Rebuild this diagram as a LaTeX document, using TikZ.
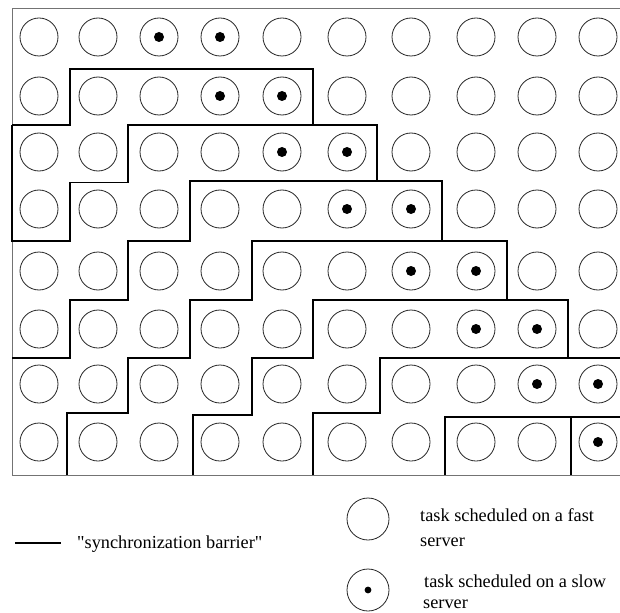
\documentclass[tikz,border=0pt]{standalone}
\usepackage{fontspec}
\setmainfont{Liberation Serif}[Ligatures=TeXOff]
\begin{document}
\begin{tikzpicture}[x=1bp,y=-1bp,
  fasttask/.style={circle,draw=black!85,line width=0.8bp,minimum size=38bp,inner sep=0pt},
  slowtask/.style={fasttask,path picture={\fill[black] (path picture bounding box.center) circle (5bp);}},
  legtask/.style={circle,draw=black!85,line width=0.8bp,minimum size=42bp,inner sep=0pt},
  legslow/.style={legtask,path picture={\fill[black] (path picture bounding box.center) circle (3.4bp);}},
  frameline/.style={draw=black!55,line width=0.9bp},
  barrier/.style={draw=black,line width=1.6bp,line join=miter},
  lbl/.style={anchor=base west,inner sep=0pt,font=\fontsize{18.3bp}{22bp}\selectfont}]
\useasboundingbox (0,0) rectangle (620,613);
\fill[white] (0,0) rectangle (620,613);
% frame
\draw[frameline] (621,8) -- (12,8) -- (12,475) -- (621,475);
% tasks
\foreach \yy [count=\r from 0] in {37,96,152,209,271,329,384,442} {
  \foreach \xx [count=\c from 0] in {39,98,159,220,282,347,411,476,537,598} {
    \pgfmathtruncatemacro{\dd}{\c-\r}
    \ifnum\dd=2 \def\st{slowtask}\else\ifnum\dd=3 \def\st{slowtask}\else\def\st{fasttask}\fi\fi
    \node[\st] (t-\r-\c) at (\xx,\yy) {};
  }
}
% synchronization barriers
\draw[barrier] (12,125) -- (70,125) -- (70,69) -- (313,69) -- (313,125);
\draw[barrier] (12,125) -- (12,241) -- (70,241) -- (70,182.5) -- (128,182.5) -- (128,125) -- (377,125) -- (377,181);
\draw[barrier] (12,358) -- (70,358) -- (70,300) -- (128,300) -- (128,241) -- (190,241) -- (190,181) -- (442,181) -- (442,241);
\draw[barrier] (67,475) -- (67,413) -- (128,413) -- (128,358) -- (190,358) -- (190,300) -- (252,300) -- (252,241) -- (507,241) -- (507,300);
\draw[barrier] (193,475) -- (193,415) -- (252,415) -- (252,358) -- (313,358) -- (313,300) -- (568,300) -- (568,358);
\draw[barrier] (313,475) -- (313,413) -- (380,413) -- (380,358) -- (621,358);
\draw[barrier] (445,475) -- (445,417) -- (621,417);
\draw[barrier] (571,417) -- (571,475);
% legend
\coordinate (lb1) at (15,543);
\coordinate (lb2) at (61,543);
\draw[barrier] (lb1) -- (lb2);
\node[lbl] (lbar) at (77,548) {"synchronization barrier"};
\node[legtask] (lfast) at (368,519) {};
\node[lbl] (lfast1) at (420,521) {task scheduled on a fast};
\node[lbl] (lfast2) at (420,546) {server};
\node[legslow] (lslow) at (368,590) {};
\node[lbl] (lslow1) at (424,587) {task scheduled on a slow};
\node[lbl] (lslow2) at (423,608.5) {server};
\end{tikzpicture}
\end{document}
